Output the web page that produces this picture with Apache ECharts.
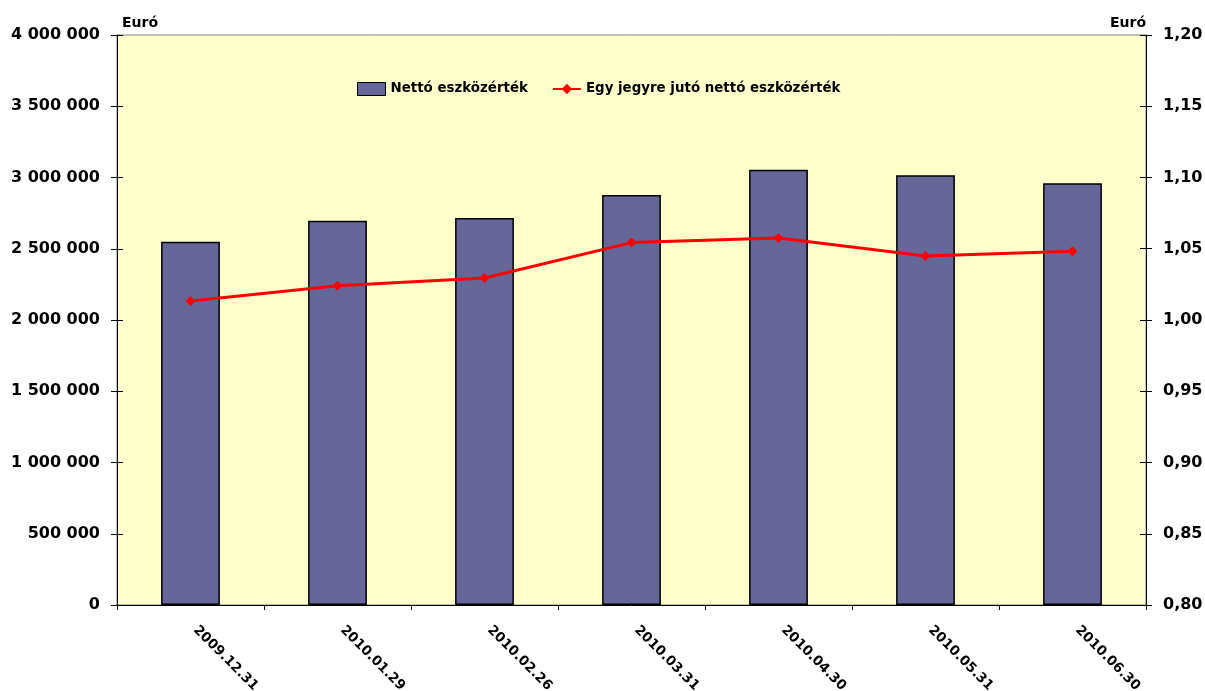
<!DOCTYPE html>
<html>
<head>
<meta charset="utf-8">
<script src="https://cdn.jsdelivr.net/npm/echarts@6/dist/echarts.min.js"></script>
<style>
  html, body { margin: 0; padding: 0; background: #ffffff; }
  #chart { width: 1205px; height: 691px; }
</style>
</head>
<body>
<div id="chart"></div>
<script>
// Month-end reporting dates
const categories = ['2009.12.31', '2010.01.29', '2010.02.26', '2010.03.31', '2010.04.30', '2010.05.31', '2010.06.30'];
// Net asset value of the fund (EUR)
const netAssets = [2550000, 2697000, 2716000, 2877000, 3055000, 3015000, 2960000];
// Net asset value per unit (EUR)
const navPerUnit = [1.0133, 1.0241, 1.0295, 1.0543, 1.0575, 1.0449, 1.0482];

const seriesNames = ['Nettó eszközérték', 'Egy jegyre jutó nettó eszközérték'];
const axisName = 'Euró';

const FONT = '"DejaVu Sans", sans-serif';
const textStyle = { color: '#000', fontWeight: 'bold', fontFamily: FONT, fontSize: 14 };

const fmtLeft = v => String(Math.round(v)).replace(/\B(?=(\d{3})+(?!\d))/g, ' ');
const fmtRight = v => v.toFixed(2).replace('.', ',');

const chart = echarts.init(document.getElementById('chart'), null, { renderer: 'canvas' });

const leftBase = {
  type: 'value', min: 0, max: 4000000, interval: 500000, position: 'left',
  splitLine: { show: false }
};
const rightBase = {
  type: 'value', min: 0.8, max: 1.2, interval: 0.05, position: 'right',
  splitLine: { show: false }
};

chart.setOption({
  animation: false,
  textStyle: textStyle,
  grid: {
    left: 117, right: 59, top: 35, bottom: 86,
    outerBoundsMode: 'none', containLabel: false,
    show: true, backgroundColor: '#FFFFCC', borderColor: '#808080', borderWidth: 1
  },
  legend: {
    left: 352, top: 77,
    itemWidth: 28, itemHeight: 13, itemGap: 24,
    textStyle: { ...textStyle, fontSize: 13.4 },
    data: [
      { name: seriesNames[0], icon: 'rect', itemStyle: { color: '#666699', borderColor: '#000', borderWidth: 1 } },
      { name: seriesNames[1] }
    ]
  },
  xAxis: {
    type: 'category', data: categories,
    axisLine: { lineStyle: { color: '#000', width: 1 } },
    axisTick: { show: true, alignWithLabel: false, length: 5, lineStyle: { color: '#000' } },
    axisLabel: { rotate: -45, margin: 18, padding: [0, 0, 0, 7], ...textStyle, fontSize: 13.5 }
  },
  yAxis: [
    Object.assign({}, leftBase, {
      name: axisName, nameLocation: 'end', nameGap: 5,
      nameTextStyle: { ...textStyle, fontSize: 14, align: 'left', padding: [0, 0, 0, 5] },
      axisLine: { show: true, lineStyle: { color: '#000' } },
      axisTick: { show: true, length: 6, lineStyle: { color: '#000' } },
      axisLabel: { margin: 17, formatter: fmtLeft, ...textStyle, fontSize: 16 }
    }),
    Object.assign({}, rightBase, {
      name: axisName, nameLocation: 'end', nameGap: 5,
      nameTextStyle: { ...textStyle, fontSize: 14, align: 'right' },
      axisLine: { show: true, lineStyle: { color: '#000' } },
      axisTick: { show: true, length: 6, lineStyle: { color: '#000' } },
      axisLabel: { margin: 17, formatter: fmtRight, ...textStyle, fontSize: 16 }
    }),
    // inner halves of the cross-style ticks
    Object.assign({}, leftBase, {
      axisLine: { show: false },
      axisTick: { show: true, inside: true, length: 6, lineStyle: { color: '#000' } },
      axisLabel: { show: false }
    }),
    Object.assign({}, rightBase, {
      axisLine: { show: false },
      axisTick: { show: true, inside: true, length: 6, lineStyle: { color: '#000' } },
      axisLabel: { show: false }
    })
  ],
  series: [
    {
      name: seriesNames[0], type: 'bar', yAxisIndex: 0, data: netAssets,
      barWidth: '40%',
      itemStyle: { color: '#666699', borderColor: '#000', borderWidth: 1.5 }
    },
    {
      name: seriesNames[1], type: 'line', yAxisIndex: 1, data: navPerUnit,
      symbol: 'diamond', symbolSize: 10, z: 5,
      lineStyle: { color: '#FF0000', width: 3 },
      itemStyle: { color: '#FF0000' }
    }
  ]
});
</script>
</body>
</html>
